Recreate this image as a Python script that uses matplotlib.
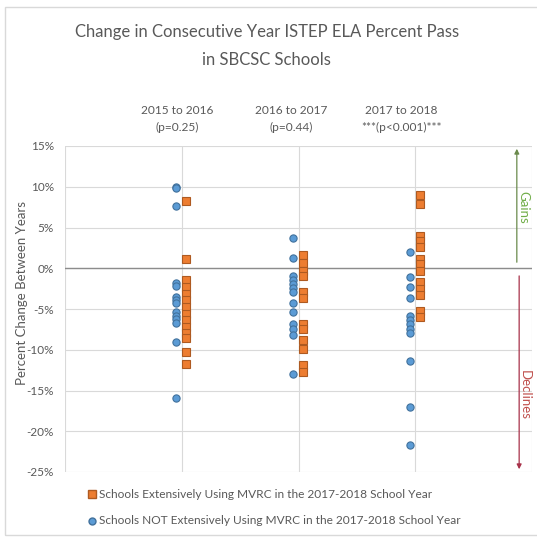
import matplotlib.pyplot as plt
from matplotlib.patches import Rectangle

# values (percent change)
periods = ['2015 to 2016\n(p=0.25)', '2016 to 2017\n(p=0.44)', '2017 to 2018\n***(p<0.001)***']

mvrc = [
    [8.3, 1.1, -1.5, -2.3, -3.1, -3.9, -4.7, -5.6, -6.4, -7.2, -8.0, -8.6, -10.3, -11.8],
    [1.6, 0.7, -0.3, -1.0, -2.9, -3.7, -6.8, -7.4, -8.8, -9.9, -11.9, -12.7],
    [9.0, 7.9, 4.0, 3.4, 2.6, 1.1, 0.5, -0.3, -1.7, -2.5, -3.3, -5.2, -6.0],
]
non_mvrc = [
    [10.0, 9.8, 7.6, -1.8, -2.2, -3.5, -3.9, -4.3, -5.4, -5.8, -6.2, -6.7, -9.1, -15.9],
    [3.7, 1.2, -0.9, -1.4, -1.9, -2.4, -2.9, -4.3, -5.4, -6.8, -7.4, -8.2, -13.0],
    [2.0, -1.1, -2.3, -3.6, -5.8, -6.3, -6.8, -7.4, -7.9, -11.4, -17.0, -21.7],
]
yticks = [15, 10, 5, 0, -5, -10, -15, -20, -25]

plt.rcParams['font.family'] = ['Lato', 'DejaVu Sans']
grey = '#595959'

fig = plt.figure(figsize=(5.37, 5.38), dpi=100)
ax = fig.add_axes([65 / 537, 1 - 472 / 538, (532 - 65) / 537, (472 - 146) / 538])

for i in range(3):
    xc = i + 1
    ax.plot([xc - 0.045] * len(non_mvrc[i]), non_mvrc[i], 'o', ms=5.2,
            mfc='#5B9BD5', mec='#41719C', mew=0.8, zorder=3)
    ax.plot([xc + 0.04] * len(mvrc[i]), mvrc[i], 's', ms=6,
            mfc='#ED7D31', mec='#AE5A21', mew=0.8, zorder=3)

ax.set_xlim(0, 4)
ax.set_ylim(-25, 15)
ax.set_xticks([0, 1, 2, 3, 4])
ax.set_xticklabels([])
ax.set_yticks(yticks)
ax.set_yticklabels([f'{t}%' for t in yticks], color=grey, fontsize=8.5)
ax.tick_params(length=0, pad=8)
ax.grid(True, color='#d9d9d9', lw=0.8)
ax.axhline(0, color='#8c8c8c', lw=1.0, zorder=2)
for s in ax.spines.values():
    s.set_visible(False)
ax.set_ylabel('Percent Change Between Years', color=grey, fontsize=9.5)
ax.yaxis.set_label_coords(-0.08, 0.55)

# period labels above the plot
label_x = [0.96, 1.94, 2.88]
for lx, txt in zip(label_x, periods):
    ax.text(lx, 16.6, txt, ha='center', va='bottom', fontsize=8.6,
            color=grey, linespacing=1.65)

# gains / declines arrows
ax.annotate('', xy=(3.87, 15), xytext=(3.87, 0.4),
            arrowprops=dict(arrowstyle='-|>', color='#6a8a4c', lw=0.9, mutation_scale=7))
ax.annotate('', xy=(3.89, -25), xytext=(3.89, -0.6),
            arrowprops=dict(arrowstyle='-|>', color='#a8324a', lw=0.9, mutation_scale=7))
ax.text(3.925, 7.5, 'Gains', rotation=-90, ha='center', va='center',
        fontsize=9.5, color='#70AD47')
ax.text(3.935, -15.6, 'Declines', rotation=-90, ha='center', va='center',
        fontsize=9.5, color='#C0504D')

fig.text(0.497, 1 - 32 / 538, 'Change in Consecutive Year ISTEP ELA Percent Pass',
         ha='center', va='center', fontsize=12, color=grey)
fig.text(0.497, 1 - 60 / 538, 'in SBCSC Schools',
         ha='center', va='center', fontsize=12, color=grey)

# legend drawn manually
fig.lines.append(plt.Line2D([92 / 537], [1 - 494 / 538], marker='s', ms=5.5,
                            mfc='#ED7D31', mec='#AE5A21', transform=fig.transFigure))
fig.lines.append(plt.Line2D([92 / 537], [1 - 521 / 538], marker='o', ms=5,
                            mfc='#5B9BD5', mec='#41719C', transform=fig.transFigure))
fig.text(99 / 537, 1 - 494 / 538, 'Schools Extensively Using MVRC in the 2017-2018 School Year',
         ha='left', va='center', fontsize=8.6, color=grey)
fig.text(99 / 537, 1 - 521 / 538, 'Schools NOT Extensively Using MVRC in the 2017-2018 School Year',
         ha='left', va='center', fontsize=8.6, color=grey)

# outer chart frame
fig.patches.append(Rectangle((5 / 537, 1 - 535 / 538), 540 / 537, 528 / 538,
                             transform=fig.transFigure, fill=False,
                             edgecolor='#d9d9d9', lw=1.0))

fig.savefig('out.png', dpi=100)
